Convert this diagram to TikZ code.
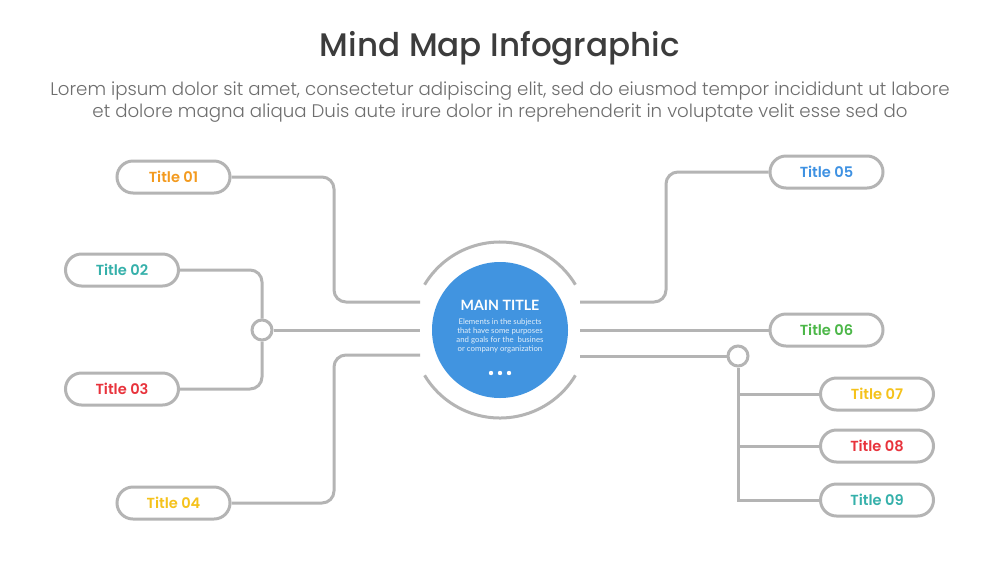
\documentclass[tikz,border=0pt]{standalone}
\usepackage{fontspec}
\setmainfont{Poppins}
\newfontfamily\popsb{Poppins SemiBold}
\newfontfamily\popmd{Poppins Medium}
\newfontfamily\poplt{Poppins Light}
\newfontfamily\lato{Lato}
\usetikzlibrary{calc}

\definecolor{linegray}{HTML}{B4B4B4}
\definecolor{headgray}{HTML}{3C3C3C}
\definecolor{textgray}{HTML}{6E6E6E}
\definecolor{mainblue}{HTML}{4194E0}
\definecolor{torange}{HTML}{F39A1E}
\definecolor{tteal}{HTML}{35B0AA}
\definecolor{tred}{HTML}{E8333C}
\definecolor{tyellow}{HTML}{F5C21B}
\definecolor{tblue}{HTML}{3E91E2}
\definecolor{tgreen}{HTML}{4CB748}

\begin{document}
\begin{tikzpicture}[x=0.5pt, y=-0.5pt,
  link/.style = {draw=linegray, line width=1.5pt, rounded corners=6pt},
  titlebox/.style = {draw=linegray, line width=1.5pt, fill=white, rounded corners=8pt,
    minimum width=56.5pt, minimum height=16pt, inner sep=0pt, font=\popsb\fontsize{7.3}{9}\selectfont},
  knot/.style = {circle, draw=linegray, line width=1.5pt, fill=white, minimum size=10pt, inner sep=0pt},
  ring/.style = {draw=linegray, line width=1.5pt}]
\useasboundingbox[fill=white] (0,0) rectangle (1000,563);

% heading
\node[anchor=base, text=headgray, font=\popmd\fontsize{16.3}{18}\selectfont] (head) at (500,56) {Mind Map Infographic};
\node[anchor=base, text=textgray, font=\poplt\fontsize{9.1}{11}\selectfont] (sub1) at (500,95)
  {Lorem ipsum dolor sit amet, consectetur adipiscing elit, sed do eiusmod tempor incididunt ut labore};
\node[anchor=base, text=textgray, font=\poplt\fontsize{9.1}{11}\selectfont] (sub2) at (500,117)
  {et dolore magna aliqua Duis aute irure dolor in reprehenderit in voluptate velit esse sed do};

% centre
\node[circle, fill=mainblue, minimum size=68pt, inner sep=0pt] (main) at (500,330) {};
\draw[ring] (main.center) ++(31:88) arc (31:149:88);
\draw[ring] (main.center) ++(211:88) arc (211:329:88);
\node[text=white, font=\lato\bfseries\fontsize{7.1}{9}\selectfont] (maintitle) at (500,305) {MAIN TITLE};
\node[text=white!85!mainblue, font=\lato\fontsize{3.9}{4.5}\selectfont, align=center] (maintext) at (500,336)
  {Elements in the subjects\\that have some purposes\\and goals for the\ \ busines\\or company organization};
\foreach \dx [count=\i] in {-9,0,9}
  \fill[white] (500+\dx,373) circle (2.2) coordinate (dot\i);

% titles
\node[titlebox, text=torange] (t1) at (173.5,177) {Title 01};
\node[titlebox, text=tteal] (t2) at (122,270) {Title 02};
\node[titlebox, text=tred] (t3) at (122,389) {Title 03};
\node[titlebox, text=tyellow] (t4) at (173.5,503) {Title 04};
\node[titlebox, text=tblue] (t5) at (826.5,172) {Title 05};
\node[titlebox, text=tgreen] (t6) at (826.5,330) {Title 06};
\node[titlebox, text=tyellow] (t7) at (877,394) {Title 07};
\node[titlebox, text=tred] (t8) at (877,446) {Title 08};
\node[titlebox, text=tteal] (t9) at (877,500) {Title 09};

% line ends at the ring
\coordinate (l1) at (420,302);
\coordinate (l2) at (420,330);
\coordinate (l3) at (420,355);
\coordinate (r1) at (580,302);
\coordinate (r2) at (580,330);
\coordinate (r3) at (580,356);

\node[knot] (j1) at (262,330) {};
\node[knot] (j2) at (738,356) {};

% left branches
\draw[link] (l1) -- ++(-86,0) |- (t1.east);
\draw[link] (t2.east) -| (j1.north);
\draw[link] (t3.east) -| (j1.south);
\draw[link] (j1.east) -- (l2);
\draw[link] (l3) -- ++(-86,0) |- (t4.east);

% right branches
\draw[link] (r1) -- ++(86,0) |- (t5.west);
\draw[link] (r2) -- (t6.west);
\draw[link] (r3) -- (j2.west);
\draw[link, sharp corners] (j2.south) |- (t9.west);
\draw[link] (t7.west) -- (t7.west -| j2.south);
\draw[link] (t8.west) -- (t8.west -| j2.south);
\end{tikzpicture}
\end{document}
